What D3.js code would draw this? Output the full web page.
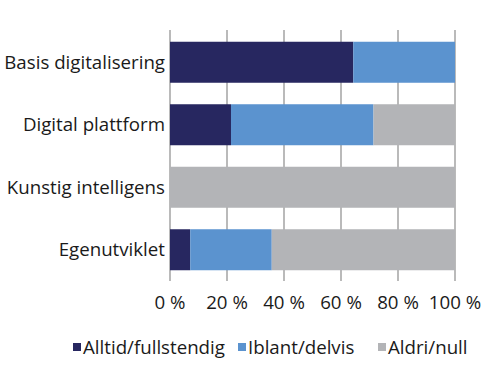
<!DOCTYPE html>
<html>
<head>
<meta charset="utf-8">
<script src="https://cdn.jsdelivr.net/npm/d3@7"></script>
<style>
  body { margin: 0; background: #fff; }
  text { font-family: "Open Sans", sans-serif; fill: #1a1a1a; }
</style>
</head>
<body>
<script>
// Data (percent of respondents)
const categories = ["Basis digitalisering", "Digital plattform", "Kunstig intelligens", "Egenutviklet"];
const seriesNames = ["Alltid/fullstendig", "Iblant/delvis", "Aldri/null"];
const alltid = [64.3, 21.4, 0, 7.1];
const iblant = [35.7, 50, 0, 28.6];
const aldri = [0, 28.6, 100, 64.3];
const ticks = [0, 20, 40, 60, 80, 100];
const colors = ["#272760", "#5b93cf", "#b3b4b7"];

const width = 500, height = 383;
const margin = { top: 31, right: 45, bottom: 102, left: 170 };
const fontSize = 18.7;

const svg = d3.select("body").append("svg")
  .attr("width", width)
  .attr("height", height);

const x = d3.scaleLinear().domain([0, 100]).range([margin.left, width - margin.right]);
const y = d3.scaleBand().domain(categories)
  .range([margin.top, height - margin.bottom])
  .paddingInner(0.344).paddingOuter(0.172);

// gridlines
svg.append("g")
  .selectAll("line")
  .data(ticks)
  .join("line")
  .attr("x1", d => x(d)).attr("x2", d => x(d))
  .attr("y1", margin.top - 1).attr("y2", height - margin.bottom)
  .attr("stroke", "#a3a3a3")
  .attr("stroke-width", 1.5);

// stacked bars
const rows = categories.map((c, i) => ({ cat: c, v: [alltid[i], iblant[i], aldri[i]] }));
const stack = d3.stack().keys([0, 1, 2]).value((d, k) => d.v[k]);
const layers = stack(rows);

svg.append("g")
  .selectAll("g")
  .data(layers)
  .join("g")
  .attr("fill", (d, i) => colors[i])
  .selectAll("rect")
  .data(d => d)
  .join("rect")
  .attr("x", d => x(d[0]))
  .attr("y", d => y(d.data.cat))
  .attr("width", d => x(d[1]) - x(d[0]))
  .attr("height", y.bandwidth());

// category labels
svg.append("g")
  .selectAll("text")
  .data(categories)
  .join("text")
  .attr("x", margin.left - 5)
  .attr("y", d => y(d) + y.bandwidth() / 2)
  .attr("dy", "0.35em")
  .attr("text-anchor", "end")
  .attr("font-size", fontSize)
  .text(d => d);

// x tick labels
svg.append("g")
  .selectAll("text")
  .data(ticks)
  .join("text")
  .attr("x", d => x(d))
  .attr("y", 309)
  .attr("text-anchor", "middle")
  .attr("font-size", fontSize)
  .text(d => d + " %");

// legend
const legendX = [73, 238, 378];
const legend = svg.append("g")
  .selectAll("g")
  .data(seriesNames)
  .join("g")
  .attr("transform", (d, i) => `translate(${legendX[i]},343)`);
legend.append("rect")
  .attr("width", 8).attr("height", 8)
  .attr("fill", (d, i) => colors[i]);
legend.append("text")
  .attr("x", 10)
  .attr("y", 10.5)
  .attr("font-size", fontSize)
  .text(d => d);
</script>
</body>
</html>
